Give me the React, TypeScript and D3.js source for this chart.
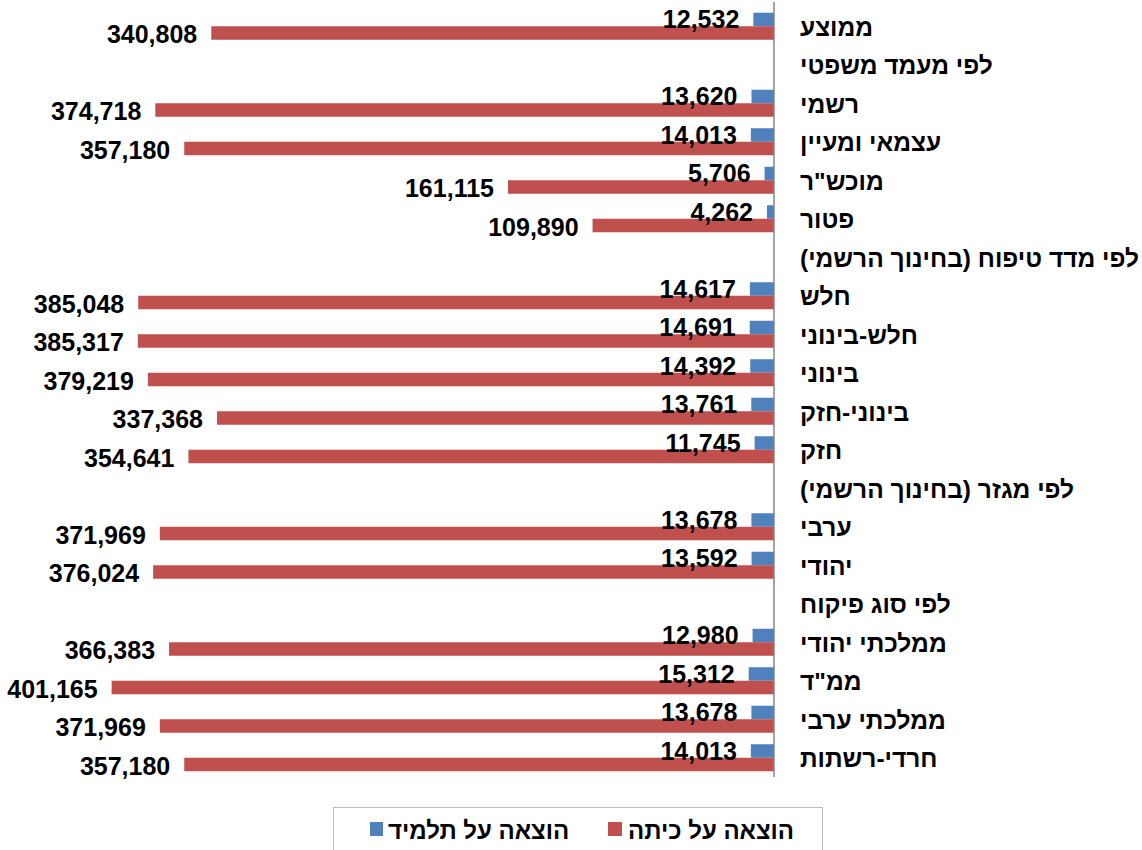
import React from "react";
import { scaleLinear, scaleBand } from "d3";

const categories = [
  "ממוצע",
  "לפי מעמד משפטי",
  "רשמי",
  "עצמאי ומעיין",
  'מוכש"ר',
  "פטור",
  "לפי מדד טיפוח (בחינוך הרשמי)",
  "חלש",
  "חלש-בינוני",
  "בינוני",
  "בינוני-חזק",
  "חזק",
  "לפי מגזר (בחינוך הרשמי)",
  "ערבי",
  "יהודי",
  "לפי סוג פיקוח",
  "ממלכתי יהודי",
  'ממ"ד',
  "ממלכתי ערבי",
  "חרדי-רשתות",
];

// per student (blue)
const perStudent = [
  12532, null, 13620, 14013, 5706, 4262, null, 14617, 14691, 14392, 13761,
  11745, null, 13678, 13592, null, 12980, 15312, 13678, 14013,
];

// per class (red)
const perClass = [
  340808, null, 374718, 357180, 161115, 109890, null, 385048, 385317, 379219,
  337368, 354641, null, 371969, 376024, null, 366383, 401165, 371969, 357180,
];

const legendLabels = ["הוצאה על כיתה", "הוצאה על תלמיד"];

const W = 1142;
const H = 850;
const BLUE = "#4F81BD";
const RED = "#C0504D";
const FONT = "'Liberation Sans', Arial, sans-serif";

const fmt = (v: number) => v.toLocaleString("en-US");

export default function App() {
  const axisX = 774;

  const x = scaleLinear().domain([0, 450000]).range([axisX, 31]);
  const y = scaleBand<number>()
    .domain(categories.map((_, i) => i))
    .range([7, 777])
    .paddingInner(0)
    .paddingOuter(0);

  const bw = y.bandwidth();
  const barH = 13.5;
  const mid = (i: number) => (y(i) as number) + bw / 2;

  return (
    <svg
      width={W}
      height={H}
      style={{ position: "absolute", left: 0, top: 0, background: "#fff" }}
    >
      {/* bars */}
      {categories.map((c, i) => {
        const s = perStudent[i];
        const k = perClass[i];
        return (
          <g key={c}>
            {s != null && (
              <rect
                x={x(s)}
                y={mid(i) - barH}
                width={axisX - x(s)}
                height={barH}
                fill={BLUE}
              />
            )}
            {k != null && (
              <rect
                x={x(k)}
                y={mid(i)}
                width={axisX - x(k)}
                height={barH}
                fill={RED}
              />
            )}
          </g>
        );
      })}

      {/* value labels and category labels */}
      {categories.map((c, i) => {
        const s = perStudent[i];
        const k = perClass[i];
        return (
          <g key={c} fontFamily={FONT} fontWeight="bold" fill="#000">
            {s != null && (
              <text
                x={x(s) - 14}
                y={mid(i) - barH / 2 - 0.5}
                textAnchor="end"
                dominantBaseline="central"
                fontSize={25}
              >
                {fmt(s)}
              </text>
            )}
            {k != null && (
              <text
                x={x(k) - 14}
                y={mid(i) + barH / 2 + 1}
                textAnchor="end"
                dominantBaseline="central"
                fontSize={25}
              >
                {fmt(k)}
              </text>
            )}
            <text
              x={800}
              y={mid(i) + 1}
              direction="rtl"
              textAnchor="end"
              dominantBaseline="central"
              fontSize={24.5}
            >
              {c}
            </text>
          </g>
        );
      })}

      {/* axis */}
      <line x1={axisX} x2={axisX} y1={2} y2={777} stroke="#868686" strokeWidth={1.5} />

      {/* legend */}
      <rect x={333.5} y={807.5} width={489} height={50} fill="#fff" stroke="#bfbfbf" />
      <g fontFamily={FONT} fontWeight="bold" fontSize={24}>
        <rect x={608} y={822} width={14} height={14} fill={RED} />
        <text x={628} y={830} direction="rtl" textAnchor="end" dominantBaseline="central">
          {legendLabels[0]}
        </text>
        <rect x={370} y={822} width={13} height={14} fill={BLUE} />
        <text x={388} y={830} direction="rtl" textAnchor="end" dominantBaseline="central">
          {legendLabels[1]}
        </text>
      </g>
    </svg>
  );
}
